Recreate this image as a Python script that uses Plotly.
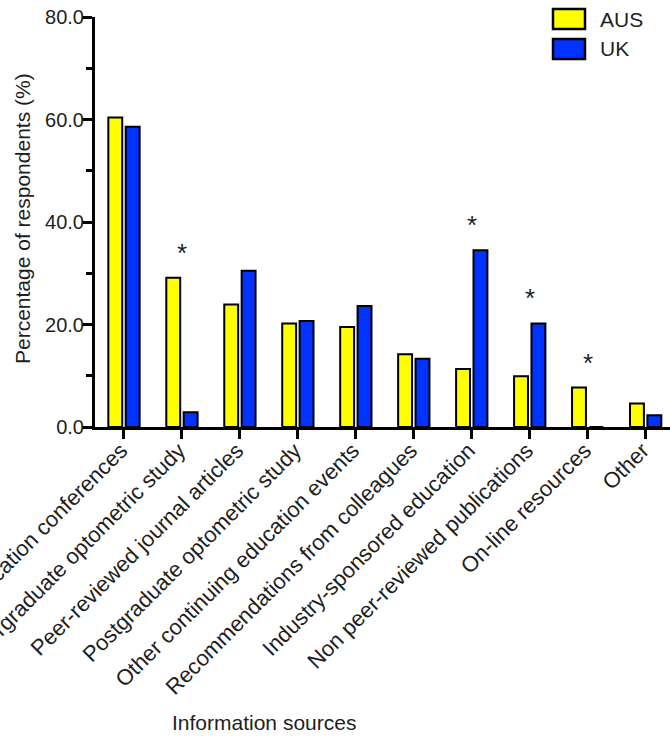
import plotly.graph_objects as go

# Survey: where respondents get their clinical information
sources = [
    "Continuing education conferences",
    "Undergraduate optometric study",
    "Peer-reviewed journal articles",
    "Postgraduate optometric study",
    "Other continuing education events",
    "Recommendations from colleagues",
    "Industry-sponsored education",
    "Non peer-reviewed publications",
    "On-line resources",
    "Other",
]
aus = [60.4, 29.1, 23.9, 20.2, 19.5, 14.2, 11.3, 9.9, 7.7, 4.6]
uk = [58.6, 2.9, 30.5, 20.7, 23.6, 13.3, 34.5, 20.2, 0.0, 2.3]
significant = [False, True, False, False, False, False, True, True, True, False]

yticks = [0, 20, 40, 60, 80]
ytick_text = ["0.0", "20.0", "40.0", "60.0", "80.0"]

AUS_COLOR = "#FFFF00"
UK_COLOR = "#0033FF"
TEXT = "#1e1e1e"
FONT = "Liberation Sans, Arial, sans-serif"

W, H = 670, 738
L, R, T, B = 95, 0, 17, 311
PW, PH = W - L - R, H - T - B


def px_x(x):
    return (x - L) / PW


def px_y(y):
    return (H - B - y) / PH


fig = go.Figure()
fig.add_trace(go.Bar(x=sources, y=aus, name="AUS", marker=dict(color=AUS_COLOR, line=dict(color="black", width=2))))
fig.add_trace(go.Bar(x=sources, y=uk, name="UK", marker=dict(color=UK_COLOR, line=dict(color="black", width=2))))

# significance markers above the groups
for i, (s, a, u) in enumerate(zip(sources, aus, uk)):
    if significant[i]:
        fig.add_annotation(x=s, y=max(a, u), text="*", showarrow=False, yanchor="bottom",
                           yshift=8, font=dict(size=26, color=TEXT, family=FONT))

# legend drawn as boxes with labels
for k, (label, col) in enumerate([("AUS", AUS_COLOR), ("UK", UK_COLOR)]):
    top = 9 + 30 * k
    fig.add_shape(type="rect", xref="paper", yref="paper",
                  x0=px_x(553), x1=px_x(585), y0=px_y(top + 20), y1=px_y(top),
                  fillcolor=col, line=dict(color="black", width=2.5))
    fig.add_annotation(xref="paper", yref="paper", x=px_x(598), y=px_y(top + 10),
                       text=label, showarrow=False, xanchor="left", yanchor="middle",
                       font=dict(size=21, color=TEXT, family=FONT))

# axis titles
fig.add_annotation(xref="paper", yref="paper", x=px_x(264), y=px_y(722), text="Information sources",
                   showarrow=False, xanchor="center", yanchor="middle",
                   font=dict(size=21, color=TEXT, family=FONT))
fig.add_annotation(xref="paper", yref="paper", x=px_x(22), y=px_y(219), text="Percentage of respondents (%)",
                   showarrow=False, textangle=-90, xanchor="center", yanchor="middle",
                   font=dict(size=21, color=TEXT, family=FONT))

fig.update_layout(
    width=W, height=H,
    margin=dict(l=L, r=R, t=T, b=B, autoexpand=False),
    paper_bgcolor="white", plot_bgcolor="white",
    barmode="group", bargap=0.4, bargroupgap=0.2,
    showlegend=False,
    font=dict(family=FONT, color=TEXT, size=20),
)
fig.update_xaxes(
    range=[-0.5, 9.42], showgrid=False, zeroline=False, automargin=False,
    showline=True, linecolor="black", linewidth=3,
    ticks="outside", ticklen=9, tickwidth=3, tickcolor="black",
    tickangle=-45, tickfont=dict(size=22, color=TEXT, family=FONT),
    ticklabelstandoff=-10, ticklabelshift=-3,
)
fig.update_yaxes(
    range=[0, 80], showgrid=False, zeroline=False, automargin=False,
    showline=True, linecolor="black", linewidth=3,
    tickvals=yticks, ticktext=ytick_text,
    ticks="outside", ticklen=10, tickwidth=3, tickcolor="black",
    minor=dict(dtick=10, ticks="outside", ticklen=6, tickwidth=3, tickcolor="black", showgrid=False),
    tickfont=dict(size=20, color=TEXT, family=FONT),
    ticklabelstandoff=-6,
)

fig.write_html("out.html")
